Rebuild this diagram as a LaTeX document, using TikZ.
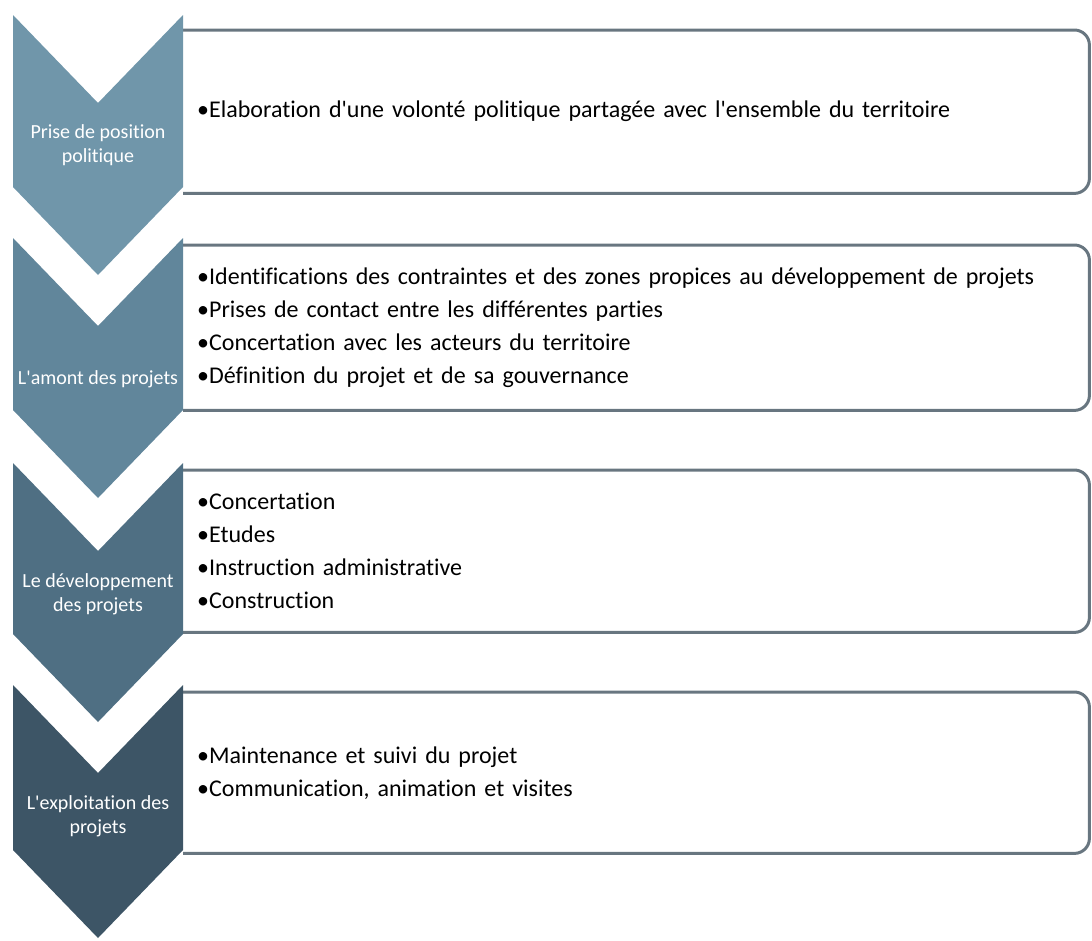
\documentclass[tikz,border=0pt]{standalone}
\usepackage{fontspec}
\setmainfont{Carlito}[Ligatures={TeXOff,NoCommon}]
\definecolor{chevone}{RGB}{112,150,170}
\definecolor{chevtwo}{RGB}{97,134,155}
\definecolor{chevthree}{RGB}{79,111,131}
\definecolor{chevfour}{RGB}{61,85,102}
\definecolor{boxline}{RGB}{104,118,128}
\tikzset{
  infobox/.style={anchor=north west, inner xsep=14, inner ysep=0, text width=878,
    align=left, font=\fontsize{24}{33}\selectfont},
  boxedge/.style={draw=boxline, line width=3, rounded corners=15},
  chevtext/.style={text=white, align=center, font=\fontsize{20}{24}\selectfont}
}
\begin{document}
\begin{tikzpicture}[x=1pt,y=-1pt]
\useasboundingbox (0,0) rectangle (1092,940);
% text boxes, open on the left where the chevrons sit
\node[infobox, minimum height=163] (box1) at (183,30) {•Elaboration d'une volonté politique partagée avec l'ensemble du territoire};
\node[infobox, minimum height=165] (box2) at (183,245) {•Identifications des contraintes et des zones propices au développement de projets\\•Prises de contact entre les différentes parties\\•Concertation avec les acteurs du territoire\\•Définition du projet et de sa gouvernance};
\node[infobox, minimum height=162] (box3) at (183,470) {•Concertation\\•Etudes\\•Instruction administrative\\•Construction};
\node[infobox, minimum height=161] (box4) at (183,692) {•Maintenance et suivi du projet\\•Communication, animation et visites};
\foreach \b in {box1,box2,box3,box4}
\draw[boxedge] (\b.north west) -- (\b.north east) -- (\b.south east) -- (\b.south west);
% chevrons: top, point, colour, label height
\foreach \n/\ytop/\ybot/\col/\ytext/\texto in {1/15/275/chevone/145/{Prise de position\\politique},2/238/498/chevtwo/379/{L'amont des projets},3/463/722/chevthree/594/{Le développement\\des projets},4/685/938/chevfour/816/{L'exploitation des\\projets}}
{
\fill[\col] (13,\ytop) -- (98,\ytop+88) -- (183,\ytop) -- (183,\ybot-88) -- (98,\ybot) -- (13,\ybot-88) -- cycle;
\node[chevtext] (chev\n) at (98,\ytext) {\texto};
}
\end{tikzpicture}
\end{document}
